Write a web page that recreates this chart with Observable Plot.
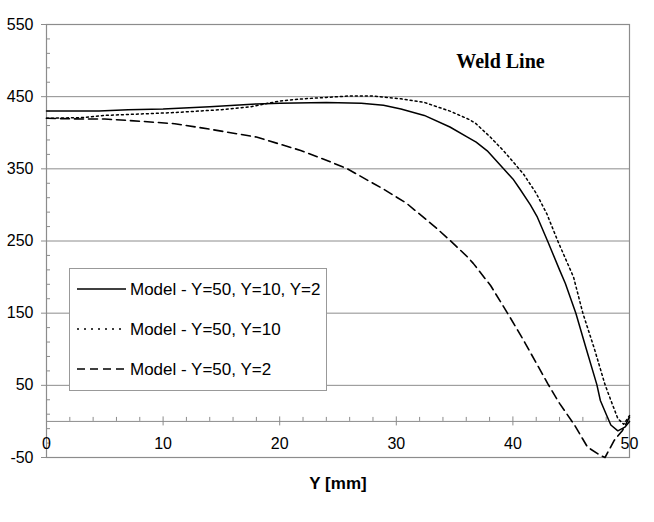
<!DOCTYPE html>
<html>
<head>
<meta charset="utf-8">
<script src="https://cdn.jsdelivr.net/npm/d3@7"></script>
<script src="https://cdn.jsdelivr.net/npm/@observablehq/plot@0.6"></script>
<style>
  html, body { margin: 0; padding: 0; background: #fff; }
  #wrap { position: relative; width: 654px; height: 522px; }
  #wrap svg { display: block; }
  #legend { position: absolute; left: 69px; top: 268px; }
</style>
</head>
<body>
<div id="wrap"></div>
<script>
// ---- Data ----
const seriesNames = ["Model - Y=50, Y=10, Y=2", "Model - Y=50, Y=10", "Model - Y=50, Y=2"];

const solidX = [0, 4.5, 7, 10, 14, 18, 20, 24, 27, 28.9, 30.4, 32.4, 34.6, 36.1, 36.85, 37.8, 39.2, 40, 40.6, 41.5, 42.1, 43, 44, 44.5, 45.4, 46.3, 47.2, 47.5, 48, 48.4, 49, 49.6, 50];
const solidV = [430, 430, 432, 433, 436, 440, 441, 442, 441, 438, 433, 424, 408, 394, 387, 375, 350, 336, 322, 300, 283, 249, 210, 191, 150, 100, 51, 29, 10, -5, -13, -8, 0];

const dottedX = [0, 3, 5, 8, 11, 13, 15, 17.5, 20, 22, 24, 26, 28, 30.4, 32.4, 34.6, 36.3, 36.8, 38, 39.2, 40.9, 42, 42.9, 43.9, 45.2, 46, 47, 47.9, 48.5, 49, 49.5, 50];
const dottedV = [420, 421, 424, 426, 428, 430, 432, 436, 444, 447, 449, 451, 451, 447, 442, 430, 418, 413, 395, 375, 343, 316, 288, 248, 200, 150, 100, 51, 25, 4, -4, 8];

const dashedX = [0, 3, 5, 8, 11, 14, 18, 21.8, 24, 25.8, 28, 28.9, 30.9, 33.5, 34.6, 36.1, 36.6, 38.1, 39.8, 41, 43, 44, 45.3, 46.4, 47.5, 47.9, 48.7, 49.4, 50];
const dashedV = [420, 419, 419, 416, 412.5, 405, 394, 375.5, 362, 350, 330, 322, 302, 267, 251, 228, 219, 188, 143, 110, 52, 25, -5.5, -35.6, -47, -50, -26, -12.5, 6];

const yTicks = [-50, 50, 150, 250, 350, 450, 550];
const yGrid = [50, 150, 250, 350, 450];
const yMinor = d3.range(-30, 550, 20).filter(v => !yTicks.includes(v));
const xTicks = [0, 10, 20, 30, 40, 50];
const xMinor = d3.range(2, 50, 2).filter(v => !xTicks.includes(v));

const toRows = (xs, vs) => xs.map((x, i) => ({x, v: vs[i]}));
const solid = toRows(solidX, solidV);
const dotted = toRows(dottedX, dottedV);
const dashed = toRows(dashedX, dashedV);

const gray = "#8c8c8c";
const font = "Liberation Sans, Arial, sans-serif";

const chart = Plot.plot({
  width: 654,
  height: 522,
  marginLeft: 46,
  marginRight: 25,
  marginTop: 24,
  marginBottom: 65,
  style: {fontFamily: font, fontSize: "16px", color: "#000", background: "#fff"},
  x: {domain: [0, 50], axis: null},
  y: {domain: [-50, 550], axis: null},
  marks: [
    Plot.ruleY(yGrid, {y: d => d, stroke: gray, strokeWidth: 1}),
    Plot.ruleY([0], {y: d => d, stroke: gray, strokeWidth: 1}),
    Plot.frame({stroke: gray, strokeWidth: 1.2}),
    // y ticks
    Plot.ruleY(yTicks, {y: d => d, x1: 0, x2: 0, insetLeft: -5, insetRight: 0, stroke: gray}),
    Plot.ruleY(yMinor, {y: d => d, x1: 0, x2: 0, insetLeft: 0, insetRight: -4, stroke: gray}),
    // x ticks at y=0
    Plot.ruleX(xTicks, {x: d => d, y1: 0, y2: 0, insetTop: -4.5, insetBottom: -4.5, stroke: gray}),
    Plot.ruleX(xMinor, {x: d => d, y1: 0, y2: 0, insetTop: -4, insetBottom: 0, stroke: gray}),
    // tick labels
    Plot.text(yTicks, {y: d => d, frameAnchor: "left", dx: -13, textAnchor: "end", text: d => String(d), fontSize: 16, fill: "#000"}),
    Plot.text(xTicks, {x: d => d, y: 0, dy: 22, text: d => String(d), fontSize: 16, fill: "#000"}),
    // series
    Plot.line(solid, {x: "x", y: "v", stroke: "#000", strokeWidth: 1.5}),
    Plot.line(dotted, {x: "x", y: "v", stroke: "#000", strokeWidth: 1.5, strokeDasharray: "2,3"}),
    Plot.line(dashed, {x: "x", y: "v", stroke: "#000", strokeWidth: 1.6, strokeDasharray: "9,5"}),
    // titles
    Plot.text(["Weld Line"], {frameAnchor: "top-right", dx: -129, dy: 29, textAnchor: "middle", fontFamily: "Liberation Serif, Times New Roman, serif", fontWeight: "bold", fontSize: 20, fill: "#000"}),
    Plot.text(["Y [mm]"], {frameAnchor: "bottom", dy: 31, fontWeight: "bold", fontSize: 17, fill: "#000"})
  ]
});

const wrap = document.getElementById("wrap");
wrap.appendChild(chart);

// ---- Legend (inside the plot area) ----
const dashes = [null, "2,5", "8,5"];
const ns = "http://www.w3.org/2000/svg";
const lg = document.createElementNS(ns, "svg");
lg.setAttribute("id", "legend");
lg.setAttribute("width", 259);
lg.setAttribute("height", 124);
const box = document.createElementNS(ns, "rect");
box.setAttribute("x", 0.5); box.setAttribute("y", 0.5);
box.setAttribute("width", 257); box.setAttribute("height", 122);
box.setAttribute("fill", "#fff"); box.setAttribute("stroke", "#999");
lg.appendChild(box);
seriesNames.forEach((name, i) => {
  const cy = 21 + i * 40;
  const ln = document.createElementNS(ns, "line");
  ln.setAttribute("x1", 8); ln.setAttribute("x2", 57);
  ln.setAttribute("y1", cy); ln.setAttribute("y2", cy);
  ln.setAttribute("stroke", "#000"); ln.setAttribute("stroke-width", 1.5);
  if (dashes[i]) ln.setAttribute("stroke-dasharray", dashes[i]);
  lg.appendChild(ln);
  const t = document.createElementNS(ns, "text");
  t.setAttribute("x", 61); t.setAttribute("y", cy);
  t.setAttribute("dy", "0.35em");
  t.setAttribute("font-family", font);
  t.setAttribute("font-size", 17);
  t.setAttribute("fill", "#000");
  t.textContent = name;
  lg.appendChild(t);
});
wrap.appendChild(lg);
</script>
</body>
</html>
